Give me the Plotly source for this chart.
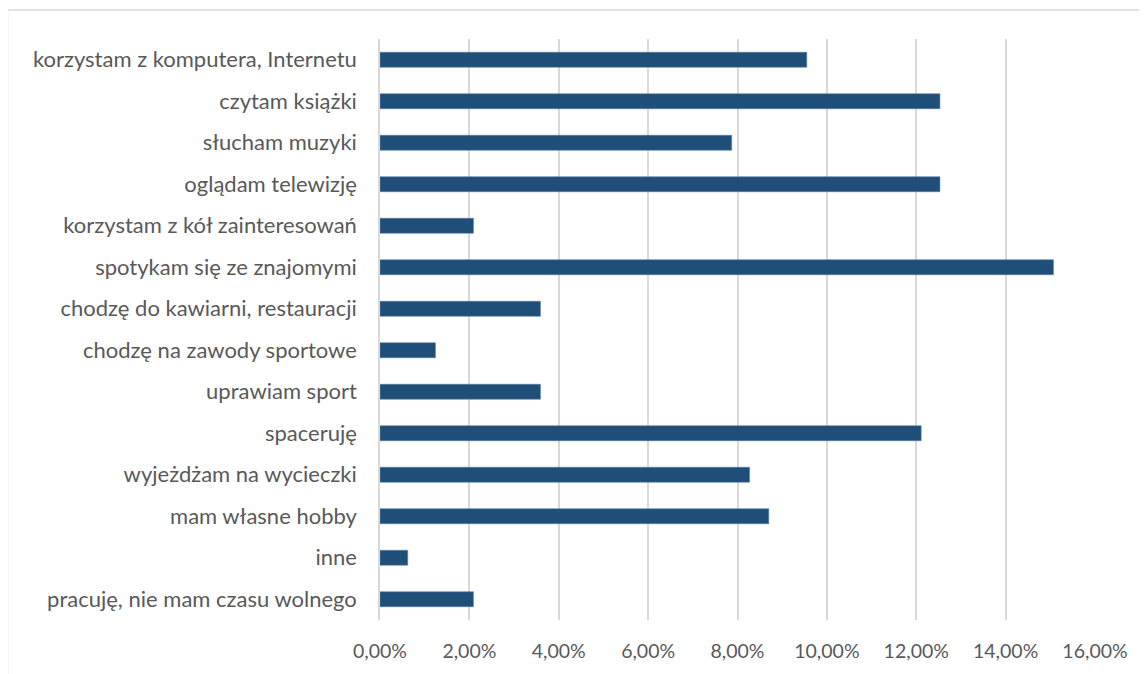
import plotly.graph_objects as go

categories = [
    "korzystam z komputera, Internetu",
    "czytam książki",
    "słucham muzyki",
    "oglądam telewizję",
    "korzystam z kół zainteresowań",
    "spotykam się ze znajomymi",
    "chodzę do kawiarni, restauracji",
    "chodzę na zawody sportowe",
    "uprawiam sport",
    "spaceruję",
    "wyjeżdżam na wycieczki",
    "mam własne hobby",
    "inne",
    "pracuję, nie mam czasu wolnego",
]
shares = [
    0.0955, 0.1253, 0.0787, 0.1253, 0.0209, 0.1507, 0.0359,
    0.0124, 0.0359, 0.1211, 0.0827, 0.0870, 0.0062, 0.0209,
]
x_ticks = [0, 0.02, 0.04, 0.06, 0.08, 0.10, 0.12, 0.14, 0.16]

FONT = "Lato"
GREY = "#595959"
GRID = "#d9d9d9"

fig = go.Figure(
    go.Bar(
        x=shares,
        y=categories,
        orientation="h",
        width=0.36,
        marker=dict(color="#1F4E79", line=dict(color="#5b7fa3", width=0.6)),
        hovertemplate="%{y}: %{x:.2%}<extra></extra>",
    )
)

# page body adds an 8px offset, so the figure is sized to the visible area
fig.update_layout(
    width=1139,
    height=666,
    paper_bgcolor="white",
    plot_bgcolor="white",
    separators=", ",
    margin=dict(l=372, r=52, t=31, b=54),
    font=dict(family=FONT, size=22, color=GREY),
    showlegend=False,
    # chart frame, as in the spreadsheet export
    shapes=[
        dict(
            type="rect", xref="paper", yref="paper",
            x0=-0.521, x1=1.2, y0=-0.3, y1=1.05,
            line=dict(color=GRID, width=1.5), layer="below",
        )
    ],
)

fig.update_xaxes(
    range=[0, 0.16],
    tickvals=x_ticks,
    tickformat=".2%",
    tickfont=dict(size=19.5),
    showgrid=True,
    gridcolor=GRID,
    gridwidth=1.5,
    zeroline=False,
    showline=False,
    ticks="",
    ticklabelstandoff=17,
    fixedrange=True,
)
fig.update_yaxes(
    autorange="reversed",
    showline=True,
    linecolor=GRID,
    linewidth=1.5,
    ticks="",
    ticklabelstandoff=17,
    showgrid=False,
)

fig.write_html("out.html")
